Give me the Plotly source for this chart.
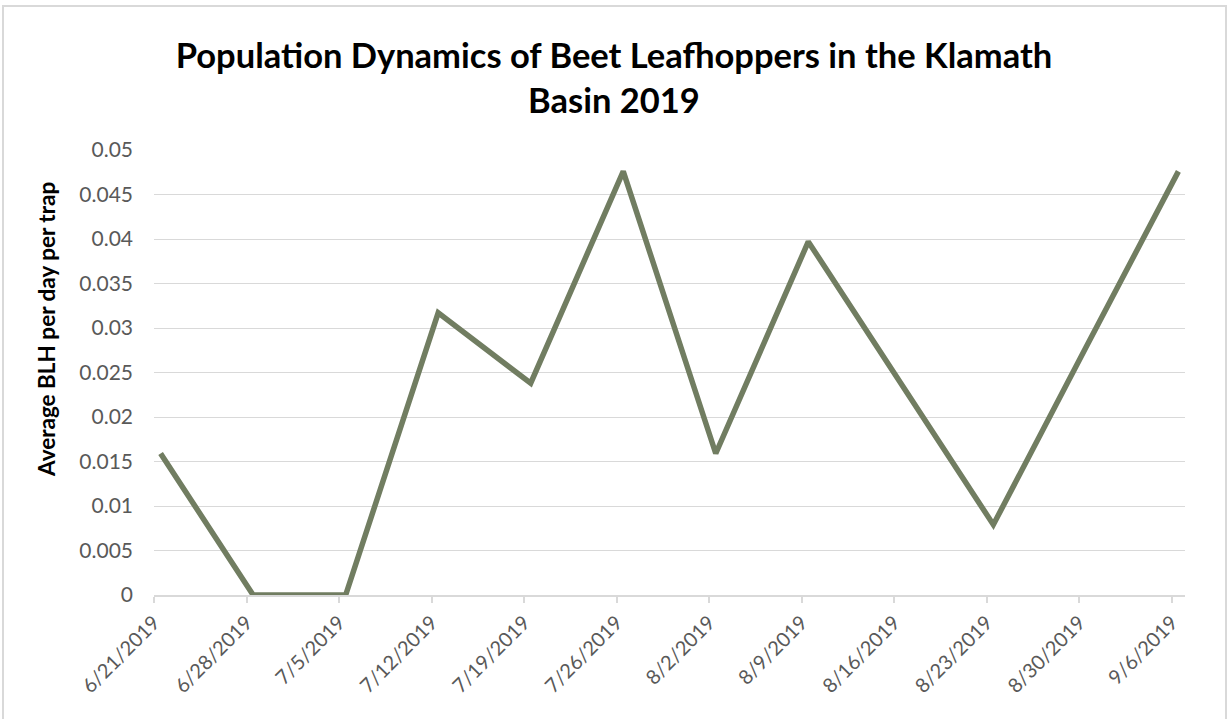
import plotly.graph_objects as go

# Weekly sticky-trap survey, Klamath Basin 2019
dates = ["2019-06-21", "2019-06-28", "2019-07-05", "2019-07-12", "2019-07-19",
         "2019-07-26", "2019-08-02", "2019-08-09", "2019-08-16", "2019-08-23",
         "2019-08-30", "2019-09-06"]
blh_per_day_per_trap = [0.0159, 0.0, 0.0, 0.0317, 0.0238, 0.0476, 0.0159,
                        0.0397, 0.0238, 0.0079, 0.0278, 0.0476]
tick_labels = ["6/21/2019", "6/28/2019", "7/5/2019", "7/12/2019", "7/19/2019",
               "7/26/2019", "8/2/2019", "8/9/2019", "8/16/2019", "8/23/2019",
               "8/30/2019", "9/6/2019"]
y_ticks = [0, 0.005, 0.01, 0.015, 0.02, 0.025, 0.03, 0.035, 0.04, 0.045, 0.05]
y_tick_text = ["0", "0.005", "0.01", "0.015", "0.02", "0.025", "0.03",
               "0.035", "0.04", "0.045", "0.05"]

W, H = 1228, 719
M = dict(l=154, r=43, t=150, b=124)
PW = W - M["l"] - M["r"]
PH = H - M["t"] - M["b"]


def px_x(px):
    return (px - M["l"]) / PW


def px_y(py):
    return (H - M["b"] - py) / PH


FONT = "Lato, Carlito, Calibri, sans-serif"
GRID = "#D9D9D9"
LINE = "#717D61"

fig = go.Figure(
    go.Scatter(
        x=dates,
        y=blh_per_day_per_trap,
        mode="lines",
        line=dict(color=LINE, width=5.5),
        # each sample sits in the middle of its one-day slot on the date axis
        xperiod=86400000,
        xperiodalignment="middle",
        hoverinfo="x+y",
    )
)

fig.update_layout(
    width=W,
    height=H,
    margin=M,
    paper_bgcolor="white",
    plot_bgcolor="white",
    showlegend=False,
    font=dict(family=FONT, color="#595959"),
    title=dict(
        text="Population Dynamics of Beet Leafhoppers in the Klamath<br>Basin 2019",
        font=dict(family=FONT, size=34.5, color="black", weight="bold"),
        x=0.5,
        xref="container",
        xanchor="center",
        y=1 - 68 / H,
        yref="container",
        yanchor="middle",
    ),
    xaxis=dict(
        type="date",
        range=["2019-06-21", "2019-09-07"],
        tickvals=dates,
        ticktext=tick_labels,
        tickangle=-45,
        tickfont=dict(size=20, color="#595959"),
        showgrid=False,
        showline=True,
        linecolor=GRID,
        linewidth=2,
        ticks="outside",
        ticklen=6,
        tickwidth=1.5,
        tickcolor=GRID,
        zeroline=False,
    ),
    yaxis=dict(
        range=[0, 0.05],
        tickvals=y_ticks,
        ticktext=y_tick_text,
        tickfont=dict(size=21, color="#595959"),
        showgrid=True,
        gridcolor=GRID,
        gridwidth=1.3,
        zeroline=False,
        showline=False,
        ticklabelstandoff=20,
    ),
    annotations=[
        dict(
            text="Average BLH per day per trap",
            textangle=-90,
            x=px_x(46),
            y=px_y(330),
            xref="paper",
            yref="paper",
            xanchor="center",
            yanchor="middle",
            showarrow=False,
            font=dict(family=FONT, size=22.5, color="black", weight="bold"),
        )
    ],
    shapes=[
        dict(
            type="rect",
            xref="paper",
            yref="paper",
            x0=px_x(3),
            x1=px_x(1226),
            y0=px_y(730),
            y1=px_y(6),
            line=dict(color=GRID, width=2),
            fillcolor="rgba(0,0,0,0)",
            layer="below",
        )
    ],
)

fig.write_html("out.html")
